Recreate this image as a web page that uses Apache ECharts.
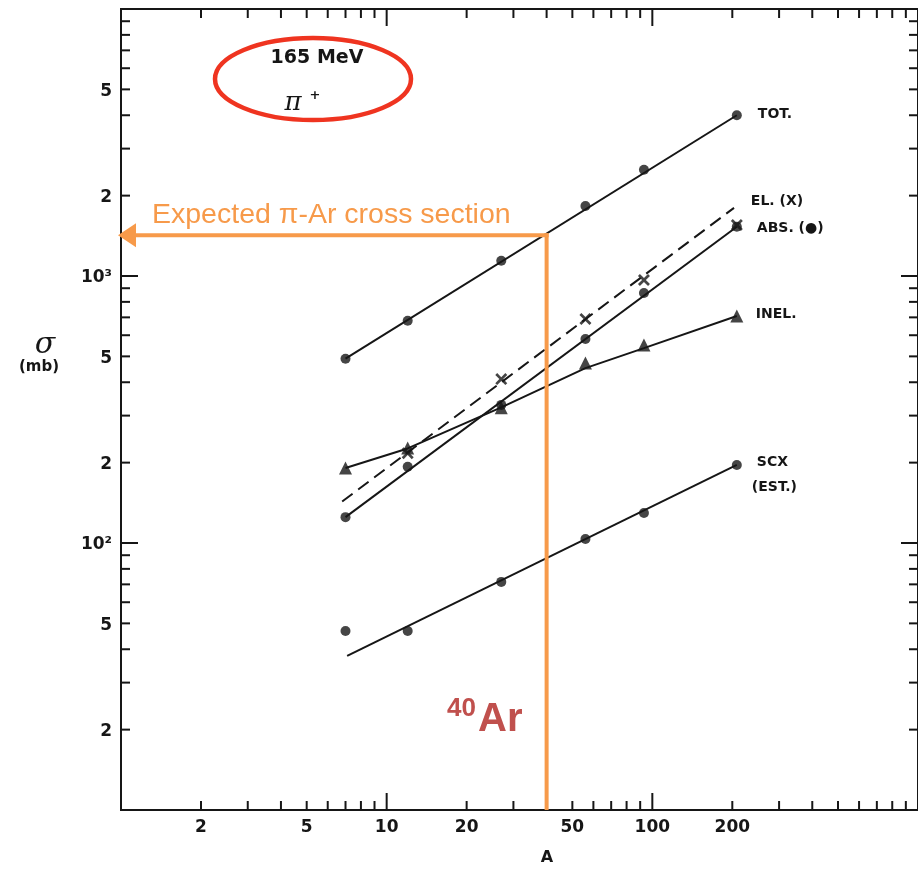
<!DOCTYPE html>
<html><head><meta charset="utf-8">
<script src="https://cdn.jsdelivr.net/npm/echarts@6/dist/echarts.min.js"></script>
<style>html,body{margin:0;padding:0;background:#fff}#c{width:918px;height:870px}</style>
</head><body><div id="c"></div>
<script>
// ---- data (mass number A, cross sections in mb) ----
const massNumbers = [7, 12, 27, 56, 93, 208];
const totValues  = [490, 680, 1140, 1830, 2500, 4000];
const absValues  = [125, 193, 329, 581, 863, 1530];
const inelValues = [191, 227, 321, 472, 552, 708];
const elMass     = [12, 27, 56, 93, 208];
const elValues   = [217, 411, 690, 966, 1553];
const scxValues  = [46.8, 46.8, 71.5, 103.5, 129.5, 196];

// drawn curves
const totLine  = [[7, 490], [208, 4000]];
const elLine   = [[6.8, 143], [203, 1800]];
const absLine  = [[7, 125], [208, 1530]];
const inelLine = [[7, 191], [12, 226], [27, 322], [56, 452], [93, 537], [208, 708]];
const scxLine  = [[7.1, 37.8], [208, 196]];

// axes
const xMajorTicks = [1, 10, 100, 1000];
const xMinorTicks = [2,3,4,5,6,7,8,9,20,30,40,50,60,70,80,90,200,300,400,500,600,700,800,900];
const xTickLabels = [2, 5, 10, 20, 50, 100, 200];
const xTickTexts  = ['2', '5', '10', '20', '50', '100', '200'];
const yMajorTicks = [10, 100, 1000, 10000];
const yMinorTicks = [20,30,40,50,60,70,80,90,200,300,400,500,600,700,800,900,2000,3000,4000,5000,6000,7000,8000,9000];
const yTickLabels = [20, 50, 100, 200, 500, 1000, 2000, 5000];
const yTickTexts  = ['2', '5', '10²', '2', '5', '10³', '2', '5'];

// annotation
const arMass = 40;
const arSigma = 1420;

const seriesLabels = [
  {text: 'TOT.',     at: [208, 4000], dx: 21, dy: -1},
  {text: 'EL. (X)',  at: [208, 1553], dx: 14, dy: -24},
  {text: 'ABS. (●)', at: [208, 1553], dx: 20, dy: 3},
  {text: 'INEL.',    at: [208, 708],  dx: 19, dy: -2},
  {text: 'SCX',      at: [208, 196],  dx: 20, dy: -3},
  {text: '(EST.)',   at: [208, 196],  dx: 15, dy: 22}
];

const INK = '#161616';
const ORANGE = '#F79A4A';
const pairs = (xs, ys) => xs.map((a, i) => [a, ys[i]]);

const chart = echarts.init(document.getElementById('c'), null, {renderer: 'canvas'});
const lineSeries = (data, dashed) => ({
  type: 'line', data: data, showSymbol: false, symbol: 'none', z: 2, silent: true,
  lineStyle: {color: INK, width: 2, type: dashed ? [13, 7] : 'solid'}
});
const crossPath = 'path://M0,1.6L1.6,0L5,3.4L8.4,0L10,1.6L6.6,5L10,8.4L8.4,10L5,6.6L1.6,10L0,8.4L3.4,5Z';
const scatter = (data, symbol, size) => ({
  type: 'scatter', data: data, symbol: symbol, symbolSize: size, z: 3, silent: true,
  itemStyle: {color: INK}
});

const option = {
  animation: false,
  backgroundColor: '#ffffff',
  grid: {left: 121, top: 9, width: 801, height: 801, show: true, borderColor: INK, borderWidth: 2, backgroundColor: 'transparent'},
  xAxis: {type: 'log', logBase: 10, min: 1, max: 1000,
    axisLine: {show: false}, axisTick: {show: false}, axisLabel: {show: false}, splitLine: {show: false}},
  yAxis: {type: 'log', logBase: 10, min: 10, max: 10000,
    axisLine: {show: false}, axisTick: {show: false}, axisLabel: {show: false}, splitLine: {show: false}},
  series: [
    lineSeries(totLine), lineSeries(elLine, true), lineSeries(absLine), lineSeries(inelLine), lineSeries(scxLine),
    scatter(pairs(massNumbers, totValues), 'circle', 10),
    scatter(pairs(massNumbers, absValues), 'circle', 10),
    scatter(pairs(massNumbers, inelValues), 'triangle', 13),
    scatter(pairs(elMass, elValues), crossPath, 12),
    scatter(pairs(massNumbers, scxValues), 'circle', 10)
  ]
};
chart.setOption(option);

const px = (a, s) => chart.convertToPixel({gridIndex: 0}, [a, s]);
const g = [];
const line = (x1, y1, x2, y2, color, w, z) => g.push({type: 'line', z: z || 10, silent: true,
  shape: {x1: x1, y1: y1, x2: x2, y2: y2}, style: {stroke: color, lineWidth: w}});
const text = (x, y, t, font, color, align, vAlign, z) => g.push({type: 'text', z: z || 10, silent: true,
  x: x, y: y, style: {text: t, font: font, fill: color, align: align || 'center', verticalAlign: vAlign || 'middle'}});

// ticks on all four sides (inward)
const tickFont = 'bold 17px "DejaVu Sans"';
function xTick(v, len) {
  const b = px(v, 10), t = px(v, 10000);
  line(b[0], b[1], b[0], b[1] - len, INK, 2);
  line(t[0], t[1], t[0], t[1] + len, INK, 2);
}
function yTick(v, len) {
  const l = px(1, v), r = px(1000, v);
  line(l[0], l[1], l[0] + len, l[1], INK, 2);
  line(r[0], r[1], r[0] - len, r[1], INK, 2);
}
xMinorTicks.forEach(v => xTick(v, 9));
xMajorTicks.forEach(v => xTick(v, 17));
yMinorTicks.forEach(v => yTick(v, 9));
yMajorTicks.forEach(v => yTick(v, 17));
xTickLabels.forEach((v, i) => { const p = px(v, 10); text(p[0], p[1] + 18, xTickTexts[i], tickFont, INK); });
yTickLabels.forEach((v, i) => { const p = px(1, v); text(p[0] - 9, p[1] + 2, yTickTexts[i], tickFont, INK, 'right'); });

// axis titles
text(547, 858, 'A', 'bold 16px "DejaVu Sans"', INK);
text(45, 345, 'σ', 'italic 30px "DejaVu Serif"', INK);
text(39, 367, '(mb)', 'bold 15px "DejaVu Sans"', INK);

// series labels
seriesLabels.forEach(l => { const p = px(l.at[0], l.at[1]); text(p[0] + l.dx, p[1] + l.dy, l.text, 'bold 14px "DejaVu Sans"', INK, 'left'); });

// beam annotation with red ellipse
g.push({type: 'ellipse', z: 12, silent: true, shape: {cx: 313, cy: 79, rx: 98, ry: 41},
  style: {stroke: '#EF3420', lineWidth: 4.5, fill: 'none'}});
text(317, 58, '165 MeV', 'bold 19px "DejaVu Sans"', INK);
text(293, 103, 'π', 'italic 26px "DejaVu Serif"', INK);
text(315, 96, '+', 'bold 13px "DejaVu Sans"', INK);

// expected pi-Ar cross section (orange)
const pBottom = px(arMass, 10), pTop = px(arMass, arSigma), pLeft = px(1, arSigma);
line(pBottom[0], pBottom[1], pTop[0], pTop[1] - 2, ORANGE, 4, 20);
line(pTop[0] + 2, pTop[1], pLeft[0] + 14, pLeft[1], ORANGE, 4, 20);
g.push({type: 'polygon', z: 20, silent: true,
  shape: {points: [[pLeft[0] - 3, pLeft[1]], [pLeft[0] + 15, pLeft[1] - 12], [pLeft[0] + 15, pLeft[1] + 12]]},
  style: {fill: ORANGE}});
text(152, 215, 'Expected π-Ar cross section', '28.5px "Liberation Sans"', ORANGE, 'left', 'middle', 20);
text(447, 709, '40', 'bold 26px "Liberation Sans"', '#C0504D', 'left', 'middle', 20);
text(478, 720, 'Ar', 'bold 40px "Liberation Sans"', '#C0504D', 'left', 'middle', 20);

chart.setOption({graphic: g});
</script>
</body></html>
